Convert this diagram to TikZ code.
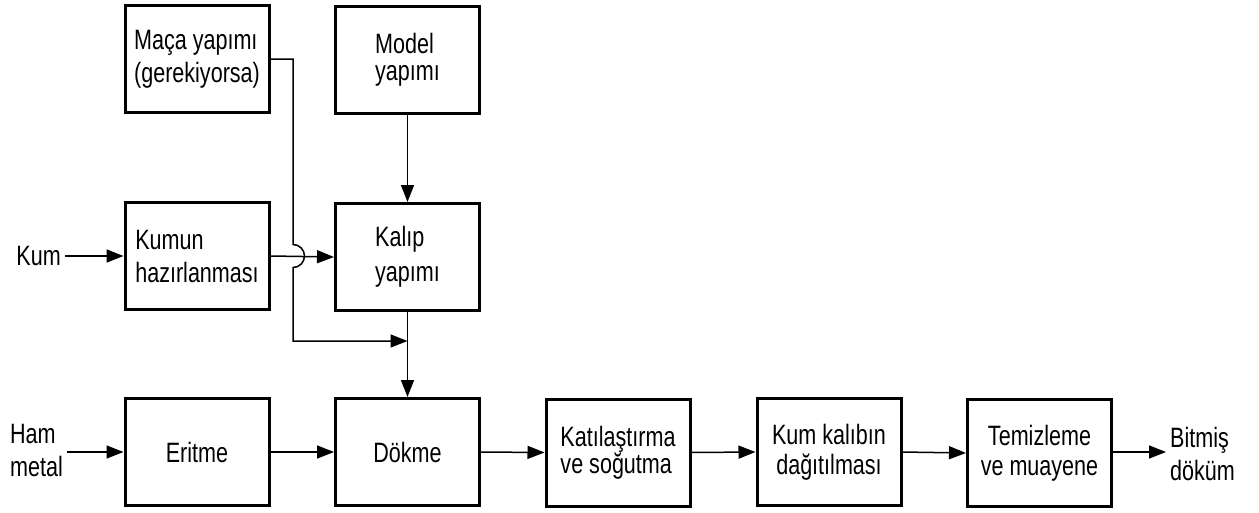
\documentclass[tikz,border=0pt]{standalone}
\usepackage{fontspec}
\setmainfont[FakeStretch=0.77]{Liberation Sans}
\usetikzlibrary{arrows.meta}
\begin{document}
\begin{tikzpicture}[x=1pt,y=1pt,
  font=\fontsize{28}{30}\selectfont,
  stepbox/.style={draw, line width=3pt, minimum width=144pt, minimum height=107pt, inner sep=0pt, align=left},
  lbl/.style={inner sep=4pt, align=left, font=\fontsize{28}{33}\selectfont},
  conn/.style={line width=1.5pt},
  arr/.style={conn, -{Triangle[length=17pt,width=13pt]}}]
\useasboundingbox (0,0) rectangle (1259,-512);
% top row
\node[stepbox, font=\fontsize{28}{33}\selectfont] (maca) at (197,-59) {Maça yapımı\\(gerekiyorsa)};
\node[stepbox, font=\fontsize{28}{27}\selectfont] (model) at (407.5,-60) {Model\\yapımı};
% middle row
\node[stepbox, font=\fontsize{28}{33}\selectfont] (kumun) at (197,-256) {Kumun\\hazırlanması};
\node[stepbox, font=\fontsize{28}{35}\selectfont] (kalip) at (407.5,-257) {Kalıp\\yapımı};
% bottom row
\node[stepbox] (eritme) at (197,-452) {Eritme};
\node[stepbox] (dokme) at (407.5,-452) {Dökme};
\node[stepbox, font=\fontsize{28}{27}\selectfont] (katil) at (618,-452.5) {Katılaştırma\\ve soğutma};
\node[stepbox, align=center] (kumkal) at (829,-452) {Kum kalıbın\\dağıtılması};
\node[stepbox, align=center] (temiz) at (1039.5,-453) {Temizleme\\ve muayene};
% outside labels
\node[lbl, anchor=east] (kum) at (65,-256) {Kum};
\node[lbl, anchor=east] (ham) at (67,-450) {Ham\\metal};
\node[lbl, anchor=west] (bitmis) at (1166,-454) {Bitmiş\\döküm};
% junction and hop coordinates
\coordinate (hopA) at (293,-244.5);
\coordinate (jn) at (407.5,-341);
% connectors
\draw[arr] (kum.east) -- (kumun.west);
\draw[arr] (kumun.east) -- (kalip.west);
\draw[arr] (model.south) -- (kalip.north);
\draw[arr] (kalip.south) -- (dokme.north);
\draw[arr] (maca.east) -| (hopA) arc[start angle=90, end angle=-90, radius=11.5] |- (jn);
\draw[arr] (ham.east |- eritme.west) -- (eritme.west);
\draw[arr] (eritme.east) -- (dokme.west);
\draw[arr] (dokme.east) -- (katil.west);
\draw[arr] (katil.east) -- (kumkal.west);
\draw[arr] (kumkal.east) -- (temiz.west);
\draw[arr] (temiz.east |- kumkal.east) -- (kumkal.east -| bitmis.west);
\end{tikzpicture}
\end{document}
